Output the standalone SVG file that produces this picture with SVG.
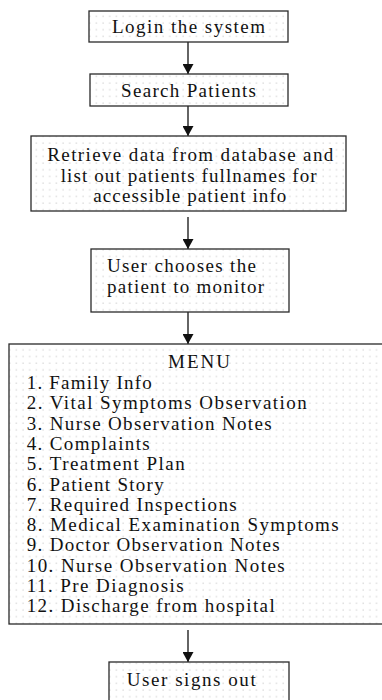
<svg xmlns="http://www.w3.org/2000/svg" width="382" height="700" viewBox="0 0 382 700">
  <style>
    .box { fill: url(#dots); stroke: #2a2a2a; stroke-width: 1.3; }
    .t { font-family: "Liberation Serif", "Times New Roman", serif; font-size: 19px; fill: #111; }
    .conn { stroke: #111; stroke-width: 1.3; fill: none; marker-end: url(#arrow); }
  </style>
  <defs>
    <pattern id="dots" x="0" y="0" width="6.67" height="6.67" patternUnits="userSpaceOnUse">
      <rect width="6.67" height="6.67" fill="#ffffff"/>
      <rect x="2.5" y="2.5" width="1" height="1" fill="#b8b8b8"/>
    </pattern>
    <marker id="arrow" markerWidth="10" markerHeight="11" refX="10" refY="5.5" orient="auto" markerUnits="userSpaceOnUse" viewBox="0 0 10 11">
      <path d="M0,0 L10,5.5 L0,11 Z" fill="#111"/>
    </marker>
  </defs>
  <rect width="382" height="700" fill="#ffffff"/>

  <g id="connectors">
    <path d="M188,42 L188,74" class="conn"/>
    <path d="M188,106 L188,136" class="conn"/>
    <path d="M188,217 L188,249" class="conn"/>
    <path d="M188,312 L188,344" class="conn"/>
    <path d="M188,630 L188,662" class="conn"/>
  </g>

  <g id="login">
    <rect class="box" x="89" y="11" width="199" height="31"/>
    <text class="t" x="112" y="33" textLength="153" lengthAdjust="spacing">Login the system</text>
  </g>

  <g id="search">
    <rect class="box" x="90" y="74" width="198" height="32"/>
    <text class="t" x="121" y="97" textLength="135" lengthAdjust="spacing">Search Patients</text>
  </g>

  <g id="retrieve">
    <rect class="box" x="31" y="136" width="315" height="75"/>
    <text class="t" x="47.3" y="161" textLength="286" lengthAdjust="spacing">Retrieve data from database and</text>
    <text class="t" x="60.7" y="181.5" textLength="256" lengthAdjust="spacing">list out patients fullnames for</text>
    <text class="t" x="93.3" y="201.5" textLength="193" lengthAdjust="spacing">accessible patient info</text>
  </g>

  <g id="choose">
    <rect class="box" x="91" y="249" width="198" height="63"/>
    <text class="t" x="107" y="272" textLength="149" lengthAdjust="spacing">User chooses the</text>
    <text class="t" x="107" y="293" textLength="157" lengthAdjust="spacing">patient to monitor</text>
  </g>

  <g id="menu">
    <rect class="box" x="9" y="344" width="385" height="280"/>
    <text class="t" x="168" y="368" textLength="62" lengthAdjust="spacing">MENU</text>
    <text class="t" x="26.7" y="389" textLength="125" lengthAdjust="spacing">1. Family Info</text>
    <text class="t" x="26.7" y="409.3" textLength="280" lengthAdjust="spacing">2. Vital Symptoms Observation</text>
    <text class="t" x="26.7" y="429.6" textLength="245" lengthAdjust="spacing">3. Nurse Observation Notes</text>
    <text class="t" x="26.7" y="449.9" textLength="123" lengthAdjust="spacing">4. Complaints</text>
    <text class="t" x="26.7" y="470.2" textLength="158" lengthAdjust="spacing">5. Treatment Plan</text>
    <text class="t" x="26.7" y="490.5" textLength="137" lengthAdjust="spacing">6. Patient Story</text>
    <text class="t" x="26.7" y="510.8" textLength="210" lengthAdjust="spacing">7. Required Inspections</text>
    <text class="t" x="26.7" y="531.1" textLength="312" lengthAdjust="spacing">8. Medical Examination Symptoms</text>
    <text class="t" x="26.7" y="551.4" textLength="253" lengthAdjust="spacing">9. Doctor Observation Notes</text>
    <text class="t" x="26.7" y="571.7" textLength="258" lengthAdjust="spacing">10. Nurse Observation Notes</text>
    <text class="t" x="26.7" y="592" textLength="157" lengthAdjust="spacing">11. Pre Diagnosis</text>
    <text class="t" x="26.7" y="612.3" textLength="248" lengthAdjust="spacing">12. Discharge from hospital</text>
  </g>

  <g id="signout">
    <rect class="box" x="109" y="662" width="180" height="50"/>
    <text class="t" x="126.7" y="686" textLength="129" lengthAdjust="spacing">User signs out</text>
  </g>
</svg>
